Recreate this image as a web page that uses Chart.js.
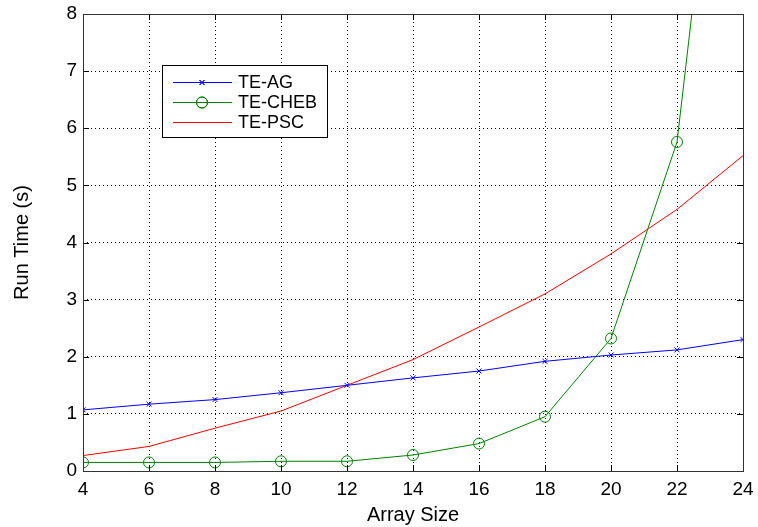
<!DOCTYPE html>
<html><head><meta charset="utf-8">
<script src="https://cdn.jsdelivr.net/npm/chart.js@4/dist/chart.umd.min.js"></script>
<style>html,body{margin:0;padding:0;background:#fff}#wrap{width:758px;height:527px}</style>
</head><body><div id="wrap"><canvas id="c" width="758" height="527"></canvas></div>
<script>
const arraySizes = [4, 6, 8, 10, 12, 14, 16, 18, 20, 22, 24];
const teAG   = [1.07, 1.17, 1.25, 1.37, 1.50, 1.63, 1.75, 1.92, 2.03, 2.12, 2.30];
const teCHEB = [0.15, 0.15, 0.15, 0.17, 0.17, 0.28, 0.48, 0.95, 2.32, 5.76, 15.7];
const tePSC  = [0.27, 0.43, 0.75, 1.05, 1.50, 1.95, 2.52, 3.10, 3.80, 4.58, 5.52];
const xTicks = [4, 6, 8, 10, 12, 14, 16, 18, 20, 22, 24];
const yTicks = [0, 1, 2, 3, 4, 5, 6, 7, 8];
const seriesLabels = ['TE-AG', 'TE-CHEB', 'TE-PSC'];

const FONT = 'Liberation Sans, Arial, sans-serif';
const pts = arr => arr.map((v, i) => ({x: arraySizes[i], y: v}));

const frame = {
  id: 'frame',
  afterDraw(chart) {
    const {ctx, chartArea: a, scales: {x, y}} = chart;
    ctx.save();
    ctx.strokeStyle = '#000';
    ctx.lineWidth = 1;
    ctx.beginPath();
    xTicks.forEach(t => {
      const px = Math.round(x.getPixelForValue(t)) + 0.5;
      ctx.moveTo(px, a.bottom); ctx.lineTo(px, a.bottom - 6);
      ctx.moveTo(px, a.top); ctx.lineTo(px, a.top + 6);
    });
    yTicks.forEach(t => {
      const py = Math.round(y.getPixelForValue(t)) + 0.5;
      ctx.moveTo(a.left, py); ctx.lineTo(a.left + 6, py);
      ctx.moveTo(a.right, py); ctx.lineTo(a.right - 6, py);
    });
    ctx.stroke();
    ctx.strokeStyle = '#333';
    ctx.strokeRect(Math.round(a.left) + 0.5, Math.round(a.top) + 0.5, Math.round(a.right - a.left), Math.round(a.bottom - a.top));
    // legend
    const bx = 162.5, by = 65.5, bw = 165, bh = 72;
    ctx.fillStyle = '#fff';
    ctx.fillRect(bx, by, bw, bh);
    ctx.strokeStyle = '#000';
    ctx.strokeRect(bx, by, bw, bh);
    ctx.font = '18px ' + FONT;
    ctx.textBaseline = 'middle';
    chart.data.datasets.forEach((ds, i) => {
      const ly = 82.5 + i * 20;
      ctx.strokeStyle = ds.borderColor;
      ctx.lineWidth = 1;
      ctx.beginPath(); ctx.moveTo(173, ly); ctx.lineTo(232, ly); ctx.stroke();
      if (ds.pointRadius > 0) {
        ctx.fillStyle = 'rgba(0,0,0,0)';
        Chart.helpers.drawPoint(ctx, {pointStyle: ds.pointStyle, radius: ds.pointRadius, borderWidth: 1}, 202, ly);
        ctx.stroke();
      }
      ctx.fillStyle = '#000';
      ctx.fillText(ds.label, 238, ly + 1);
    });
    ctx.restore();
  }
};

new Chart(document.getElementById('c'), {
  type: 'line',
  data: {
    datasets: [
      {label: seriesLabels[0], data: pts(teAG), borderColor: '#0000ff', backgroundColor: 'transparent', borderWidth: 1, pointStyle: 'crossRot', pointRadius: 3.5, pointBorderColor: '#0000ff', pointBorderWidth: 1},
      {label: seriesLabels[1], data: pts(teCHEB), borderColor: '#008000', backgroundColor: 'transparent', borderWidth: 1, pointStyle: 'circle', pointRadius: 5.5, pointBorderColor: '#008000', pointBackgroundColor: 'transparent', pointBorderWidth: 1},
      {label: seriesLabels[2], data: pts(tePSC), borderColor: '#ff0000', backgroundColor: 'transparent', borderWidth: 1, pointRadius: 0, pointStyle: 'line'}
    ]
  },
  options: {
    responsive: false,
    animation: false,
    layout: {padding: {top: 14, right: 15, left: 0, bottom: 0}},
    plugins: {legend: {display: false}, tooltip: {enabled: false}},
    scales: {
      x: {
        type: 'linear', min: 4, max: 24,
        afterBuildTicks: s => { s.ticks = xTicks.map(v => ({value: v})); },
        afterFit: s => { s.height = 56; s.paddingLeft = 0; s.paddingRight = 0; },
        border: {display: false, dash: [1, 3]},
        grid: {color: '#000', lineWidth: 1, drawTicks: false},
        ticks: {color: '#000', font: {family: FONT, size: 19}, padding: 7, maxRotation: 0},
        title: {display: true, text: 'Array Size', color: '#000', font: {family: FONT, size: 20}, padding: {top: 0, bottom: 0}}
      },
      y: {
        min: 0, max: 8,
        afterBuildTicks: s => { s.ticks = yTicks.map(v => ({value: v})); },
        afterFit: s => { s.width = 83; s.paddingTop = 0; s.paddingBottom = 0; },
        border: {display: false, dash: [1, 3]},
        grid: {color: '#000', lineWidth: 1, drawTicks: false},
        ticks: {color: '#000', font: {family: FONT, size: 19}, padding: 6},
        title: {display: true, text: 'Run Time (s)', color: '#000', font: {family: FONT, size: 20}, padding: {top: 10, bottom: 0}}
      }
    }
  },
  plugins: [frame]
});
</script>
</body></html>
